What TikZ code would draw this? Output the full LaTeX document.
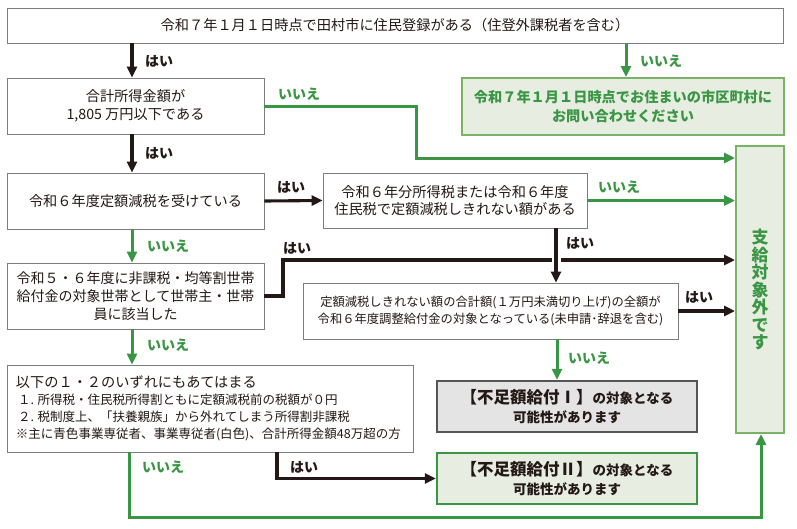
\documentclass[tikz,border=0pt]{standalone}
\usepackage{fontspec}
\setmainfont{Noto Sans CJK JP}
\usepackage{xcolor}
\usetikzlibrary{arrows.meta,positioning,calc}
\definecolor{inkblack}{RGB}{35,24,21}
\definecolor{boxgray}{RGB}{125,125,125}
\definecolor{flowgreen}{RGB}{58,150,68}
\definecolor{boxgreen}{RGB}{122,178,104}
\definecolor{palegreen}{RGB}{231,237,225}
\definecolor{palegray}{RGB}{228,228,228}
\definecolor{darkgray}{RGB}{85,85,85}

\begin{document}
\begin{tikzpicture}[x=1pt, y=-1pt,
    box/.style={rectangle, draw=boxgray, line width=0.8pt, fill=white, text=inkblack, align=center, inner sep=0pt, font=\fontsize{14.2}{18}\selectfont},
    askbox/.style={box, draw=boxgreen, line width=2pt, fill=palegreen, text=flowgreen, font=\fontsize{14.2}{19}\selectfont\bfseries},
    supone/.style={box, draw=darkgray, line width=2.4pt, fill=palegray, font=\fontsize{13.5}{19}\selectfont\bfseries},
    suptwo/.style={box, draw=flowgreen, line width=2.4pt, fill=palegreen, font=\fontsize{13.5}{19}\selectfont\bfseries},
    yes/.style={draw=inkblack, line width=3.1pt, -{Triangle[length=11pt,width=10pt]}},
    no/.style={draw=flowgreen, line width=3pt, -{Triangle[length=11pt,width=10pt]}},
    yeslabel/.style={anchor=west, text=inkblack, font=\fontsize{14}{15}\selectfont\bfseries, inner sep=0pt},
    nolabel/.style={anchor=west, text=flowgreen, font=\fontsize{14}{15}\selectfont\bfseries, inner sep=0pt}
]
\useasboundingbox (0,0) rectangle (797,528);

% Boxes
\node[box, minimum width=776, minimum height=35] (top) at (395,25.5)
    {令和７年１月１日時点で田村市に住民登録がある（住登外課税者を含む）};
\node[askbox, minimum width=322, minimum height=57] (ask) at (623,106.5)
    {令和７年１月１日時点でお住まいの市区町村に\\お問い合わせください};
\node[box, minimum width=257, minimum height=56] (total) at (135.5,106)
    {合計所得金額が\\1,805 万円以下である};
\node[askbox, minimum width=48, minimum height=287, font=\fontsize{17}{17.5}\selectfont\bfseries] (out) at (760,289.5)
    {支\\給\\対\\象\\外\\で\\す};
\node[box, minimum width=257, minimum height=56] (flat) at (135.5,201)
    {令和６年度定額減税を受けている};
\node[box, minimum width=264, minimum height=55, font=\fontsize{14.2}{17}\selectfont] (remain) at (455,200.5)
    {令和６年分所得税または令和６年度\\住民税で定額減税しきれない額がある};
\node[box, minimum width=257, minimum height=66, font=\fontsize{14}{18}\selectfont] (hh) at (135.5,296)
    {令和５・６年度に非課税・均等割世帯\\給付金の対象世帯として世帯主・世帯\\員に該当した};
\node[box, minimum width=375, minimum height=56, font=\fontsize{12.3}{17}\selectfont] (adj) at (490.5,311)
    {定額減税しきれない額の合計額(１万円未満切り上げ)の全額が\\令和６年度調整給付金の対象となっている(未申請･辞退を含む)};
\node[box, minimum width=406, minimum height=87, align=left, font=\fontsize{12.5}{17}\selectfont] (cond) at (210,408.5)
    {\parbox{388pt}{{\fontsize{14.2}{17}\selectfont 以下の１・２のいずれにもあてはまる}\\
    \hspace*{2pt}１. 所得税・住民税所得割ともに定額減税前の税額が０円\\
    \hspace*{2pt}２. 税制度上、「扶養親族」から外れてしまう所得割非課税\\
    ※主に青色事業専従者、事業専従者(白色)、合計所得金額48万超の方}};
\node[supone, minimum width=260, minimum height=51] (sup1) at (567,406.5)
    {{\fontsize{16.5}{19}\selectfont【不足額給付Ⅰ】}の対象となる\\可能性があります};
\node[suptwo, minimum width=260, minimum height=51] (sup2) at (567,478.5)
    {{\fontsize{16.5}{19}\selectfont【不足額給付Ⅱ】}の対象となる\\可能性があります};

% Bend points
\coordinate (leftx) at (132,0);
\coordinate (askx) at (626,0);
\coordinate (midx) at (556,0);
\coordinate (suponex) at (557,0);
\coordinate (lowx) at (129,0);
\coordinate (bendtotal) at (416,158);
\coordinate (bendhh) at (283,260);
\coordinate (bendcond) at (277,480);
\coordinate (bendlow) at (761,517);

% Connectors
\draw[yes] (top.south -| leftx) -- (total.north -| leftx);
\draw[no] (top.south -| askx) -- (ask.north -| askx);
\draw[no] (total.east) -| (bendtotal) -- (bendtotal -| out.west);
\draw[yes] (total.south -| leftx) -- (flat.north -| leftx);
\draw[yes] (flat.east) -- (remain.west);
\draw[no] (remain.east) -- (remain.east -| out.west);
\draw[no] (flat.south -| leftx) -- (hh.north -| leftx);
\draw[yes] (hh.east) -| (bendhh) -- (bendhh -| out.west);
\fill[white] ($(bendhh -| midx)+(-4.5,-3)$) rectangle ($(bendhh -| midx)+(4.5,3)$);
\draw[yes] (remain.south -| midx) -- (adj.north -| midx);
\draw[yes] (adj.east) -- (adj.east -| out.west);
\draw[no] (adj.south -| suponex) -- (sup1.north -| suponex);
\draw[no] (hh.south -| leftx) -- (cond.north -| leftx);
\draw[yes] (cond.south -| bendcond) |- (sup2.west);
\draw[no] (cond.south -| lowx) |- (bendlow) -- (out.south -| bendlow);

% Labels
\node[yeslabel] (yestop) at (145,61) {はい};
\node[nolabel] (notop) at (640,61) {いいえ};
\node[nolabel] (nototal) at (278,94) {いいえ};
\node[yeslabel] (yestotal) at (145,153) {はい};
\node[yeslabel] (yesflat) at (277,187) {はい};
\node[nolabel] (noremain) at (598,187) {いいえ};
\node[nolabel] (noflat) at (147,246) {いいえ};
\node[yeslabel] (yeshh) at (283,248) {はい};
\node[yeslabel] (yesremain) at (566,243) {はい};
\node[yeslabel] (yesadj) at (685,297) {はい};
\node[nolabel] (nohh) at (147,345) {いいえ};
\node[nolabel] (noadj) at (568,358) {いいえ};
\node[nolabel] (nocond) at (142,467) {いいえ};
\node[yeslabel] (yescond) at (290,467) {はい};

\end{tikzpicture}
\end{document}
